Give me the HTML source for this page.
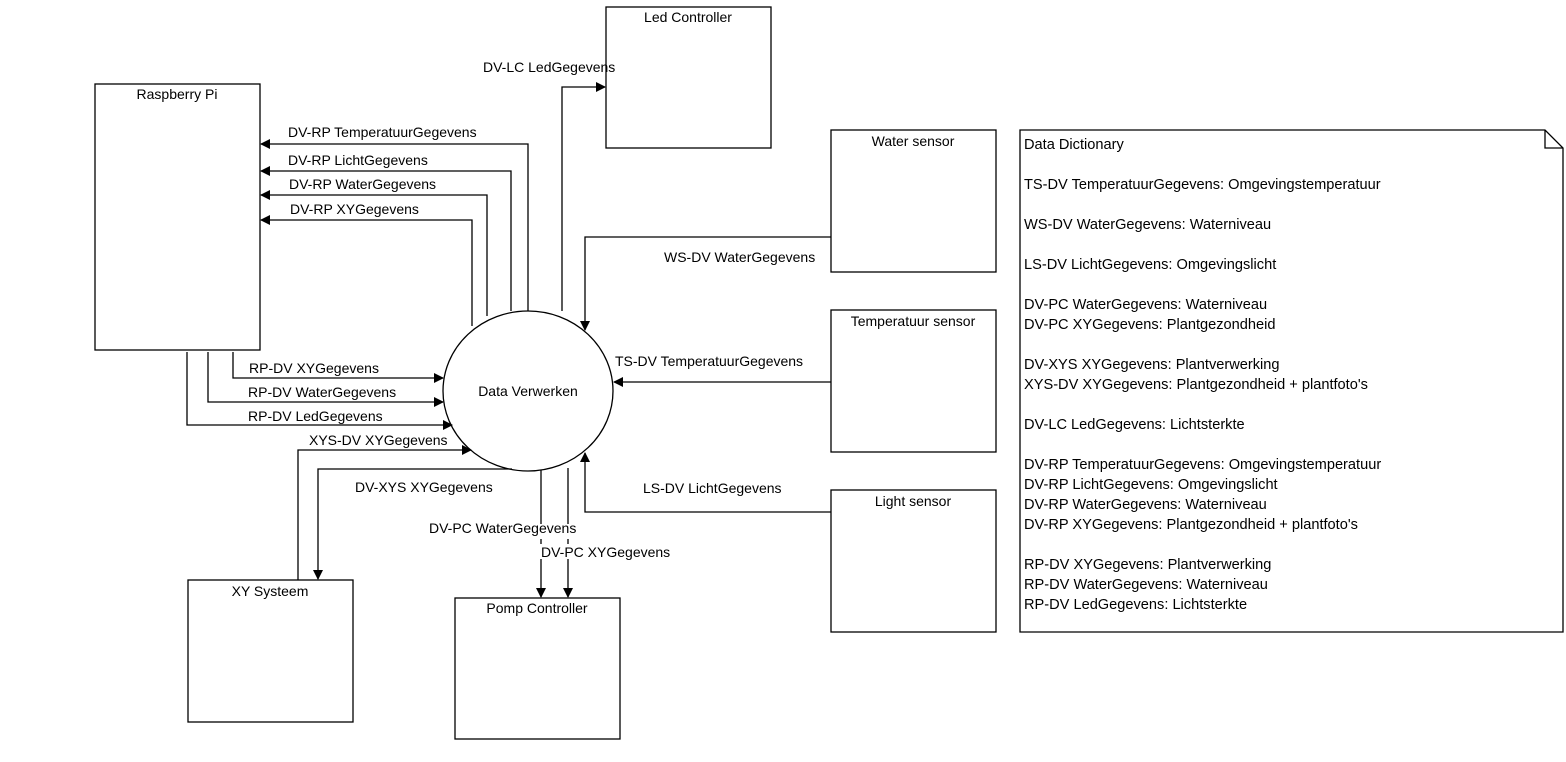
<!DOCTYPE html>
<html><head><style>body{margin:0;background:#fff}svg{display:block}text{font-family:"Liberation Sans",Arial,sans-serif;font-size:14px;fill:#000}.d text{font-size:14.6px}</style></head><body>
<svg width="1566" height="762" xmlns="http://www.w3.org/2000/svg">
<defs><marker id="a" markerWidth="10" markerHeight="10" refX="9" refY="5" orient="auto" markerUnits="userSpaceOnUse"><path d="M0,0 L10,5 L0,10 z" fill="#000"/></marker></defs>
<g fill="none" stroke="#000" stroke-width="1.3">
<rect x="95" y="84" width="165" height="266"/>
<rect x="606" y="7" width="165" height="141"/>
<rect x="831" y="130" width="165" height="142"/>
<rect x="831" y="310" width="165" height="142"/>
<rect x="831" y="490" width="165" height="142"/>
<rect x="188" y="580" width="165" height="142"/>
<rect x="455" y="598" width="165" height="141"/>
<ellipse cx="528" cy="391" rx="85" ry="80"/>
<path d="M1020,130 H1545 L1563,148 V632 H1020 Z"/>
<path d="M1545,130 V148 H1563"/>
<path d="M528,311 V144 H261" marker-end="url(#a)"/>
<path d="M511,311 V171 H261" marker-end="url(#a)"/>
<path d="M487,316 V195 H261" marker-end="url(#a)"/>
<path d="M472,326 V220 H261" marker-end="url(#a)"/>
<path d="M233,352 V378 H443" marker-end="url(#a)"/>
<path d="M208,352 V402 H443" marker-end="url(#a)"/>
<path d="M187,352 V425 H452" marker-end="url(#a)"/>
<path d="M298,580 V450 H471" marker-end="url(#a)"/>
<path d="M512,469 H318 V579" marker-end="url(#a)"/>
<path d="M541,470 V597" marker-end="url(#a)"/>
<path d="M568,468 V597" marker-end="url(#a)"/>
<path d="M562,311 V87 H605" marker-end="url(#a)"/>
<path d="M831,237 H585 V330" marker-end="url(#a)"/>
<path d="M831,382 H614" marker-end="url(#a)"/>
<path d="M831,512 H585 V453" marker-end="url(#a)"/>
</g>
<g>
<rect x="425" y="524" width="150" height="15" fill="#fff"/>
<rect x="538" y="544" width="136" height="15" fill="#fff"/>
<text x="177" y="99" text-anchor="middle">Raspberry Pi</text>
<text x="688" y="22" text-anchor="middle">Led Controller</text>
<text x="913" y="146" text-anchor="middle">Water sensor</text>
<text x="913" y="326" text-anchor="middle">Temperatuur sensor</text>
<text x="913" y="506" text-anchor="middle">Light sensor</text>
<text x="270" y="596" text-anchor="middle">XY Systeem</text>
<text x="537" y="613" text-anchor="middle">Pomp Controller</text>
<text x="528" y="396" text-anchor="middle">Data Verwerken</text>
<text x="288" y="137">DV-RP TemperatuurGegevens</text>
<text x="288" y="165">DV-RP LichtGegevens</text>
<text x="289" y="189">DV-RP WaterGegevens</text>
<text x="290" y="214">DV-RP XYGegevens</text>
<text x="249" y="373">RP-DV XYGegevens</text>
<text x="248" y="397">RP-DV WaterGegevens</text>
<text x="248" y="421">RP-DV LedGegevens</text>
<text x="309" y="445">XYS-DV XYGegevens</text>
<text x="355" y="492">DV-XYS XYGegevens</text>
<text x="429" y="533">DV-PC WaterGegevens</text>
<text x="541" y="557">DV-PC XYGegevens</text>
<text x="483" y="72">DV-LC LedGegevens</text>
<text x="664" y="262">WS-DV WaterGegevens</text>
<text x="615" y="366">TS-DV TemperatuurGegevens</text>
<text x="643" y="493">LS-DV LichtGegevens</text>
</g>
<g class="d">
<text x="1024" y="149">Data Dictionary</text>
<text x="1024" y="189">TS-DV TemperatuurGegevens: Omgevingstemperatuur</text>
<text x="1024" y="229">WS-DV WaterGegevens: Waterniveau</text>
<text x="1024" y="269">LS-DV LichtGegevens: Omgevingslicht</text>
<text x="1024" y="309">DV-PC WaterGegevens: Waterniveau</text>
<text x="1024" y="329">DV-PC XYGegevens: Plantgezondheid</text>
<text x="1024" y="369">DV-XYS XYGegevens: Plantverwerking</text>
<text x="1024" y="389">XYS-DV XYGegevens: Plantgezondheid + plantfoto's</text>
<text x="1024" y="429">DV-LC LedGegevens: Lichtsterkte</text>
<text x="1024" y="469">DV-RP TemperatuurGegevens: Omgevingstemperatuur</text>
<text x="1024" y="489">DV-RP LichtGegevens: Omgevingslicht</text>
<text x="1024" y="509">DV-RP WaterGegevens: Waterniveau</text>
<text x="1024" y="529">DV-RP XYGegevens: Plantgezondheid + plantfoto's</text>
<text x="1024" y="569">RP-DV XYGegevens: Plantverwerking</text>
<text x="1024" y="589">RP-DV WaterGegevens: Waterniveau</text>
<text x="1024" y="609">RP-DV LedGegevens: Lichtsterkte</text>
</g>
</svg>
</body></html>
